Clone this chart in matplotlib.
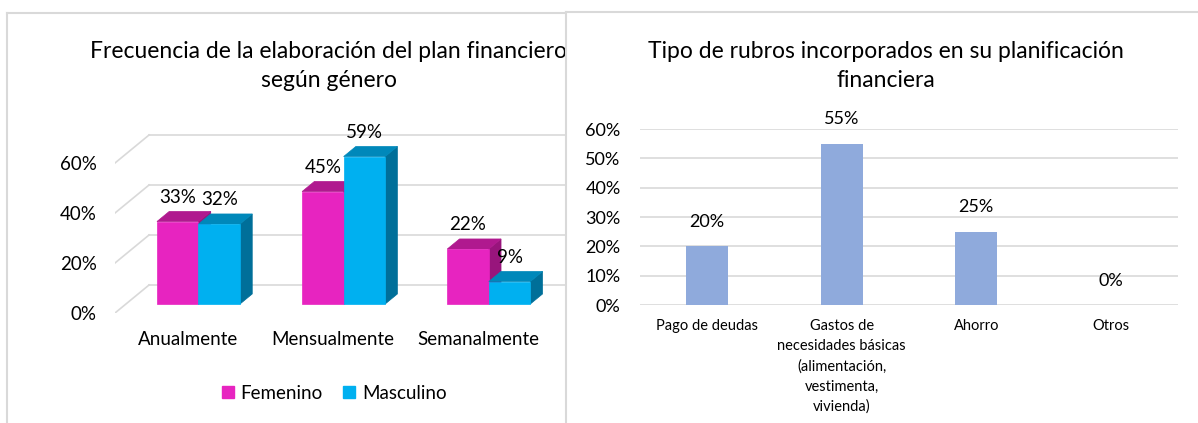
import matplotlib.pyplot as plt
from matplotlib.patches import Polygon, Patch

plt.rcParams['font.family'] = ['Lato', 'DejaVu Sans']

# left chart: frecuencia por genero
freq_cats = ['Anualmente', 'Mensualmente', 'Semanalmente']
femenino = [33, 45, 22]
masculino = [32, 59, 9]
freq_ticks = [0, 20, 40, 60]

# right chart: tipo de rubros
rubros = ['Pago de deudas',
          'Gastos de\nnecesidades básicas\n(alimentación,\nvestimenta,\nvivienda)',
          'Ahorro', 'Otros']
rubros_vals = [20, 55, 25, 0]
rubros_ticks = [0, 10, 20, 30, 40, 50, 60]

W, H = 1198, 423


def rect(x0, y0, x1, y1):
    # pixel box (top-left origin) -> figure fraction
    return [x0 / W, 1 - y1 / H, (x1 - x0) / W, (y1 - y0) / H]


fig = plt.figure(figsize=(W / 100, H / 100), dpi=100)
grid_c = '#D9D9D9'

# panel frames
p1 = fig.add_axes(rect(7, 13, 760, 460), zorder=0)
p2 = fig.add_axes(rect(566, 12, 1260, 460), zorder=2)
for p in (p1, p2):
    p.set_xticks([])
    p.set_yticks([])
    p.set_facecolor('white')
    for s in p.spines.values():
        s.set_color(grid_c)
        s.set_linewidth(1.5)

# ---- left: pseudo 3D clustered columns ----
DX, DY = 0.2345, 11.2          # wall depth in data units
z0, z1 = 0.32, 0.68            # bar depth range
fx, fy = z0 * DX, z0 * DY
bdx, bdy = (z1 - z0) * DX, (z1 - z0) * DY
w = 0.286

ax = fig.add_axes(rect(115, 133, 584.5, 313), zorder=1)
ax.set_xlim(-0.5, 2.5 + DX)
ax.set_ylim(0, 72)
ax.patch.set_visible(False)
for s in ax.spines.values():
    s.set_visible(False)

for v in freq_ticks:
    ax.plot([-0.5 + DX, 2.5 + DX], [v + DY, v + DY], color=grid_c, lw=1.2, zorder=1)
    ax.plot([-0.5, -0.5 + DX], [v, v + DY], color=grid_c, lw=1.2, zorder=1)

series = [(femenino, -w, ('#E724C0', '#B0198F', '#98157C')),
          (masculino, 0, ('#00B0F0', '#0088BA', '#006F99'))]
zo = 2
for i in range(len(freq_cats)):
    for vals, off, (cf, ct, cs) in series:
        v = vals[i]
        x0 = i + off + fx
        x1 = x0 + w
        ax.add_patch(Polygon([(x1, fy), (x1 + bdx, fy + bdy), (x1 + bdx, fy + v + bdy), (x1, fy + v)],
                             closed=True, facecolor=cs, edgecolor=cs, lw=0.5, zorder=zo))
        ax.add_patch(Polygon([(x0, fy + v), (x1, fy + v), (x1 + bdx, fy + v + bdy), (x0 + bdx, fy + v + bdy)],
                             closed=True, facecolor=ct, edgecolor=ct, lw=0.5, zorder=zo))
        ax.bar(x0, v, width=w, bottom=fy, align='edge', color=cf, edgecolor=cf, lw=0.5, zorder=zo)
        ax.annotate(f'{v}%', (x0 + w / 2, fy + v), xytext=(0, 17.5), textcoords='offset points',
                    ha='center', va='center', fontsize=13.5, zorder=10)
        zo += 1

ax.set_yticks(freq_ticks)
ax.set_yticklabels([f'{t}%' for t in freq_ticks])
ax.set_xticks(range(len(freq_cats)))
ax.set_xticklabels(freq_cats)
ax.tick_params(axis='y', length=0, pad=13, labelsize=13.5)
ax.tick_params(axis='x', length=0, pad=13, labelsize=13.5)

ax.text(329 / W, 1 - 66 / H, 'Frecuencia de la elaboración del plan financiero\nsegún género',
        transform=fig.transFigure, ha='center', va='center', fontsize=16.5, linespacing=1.5)

ax.legend(handles=[Patch(color='#E724C0', label='Femenino'), Patch(color='#00B0F0', label='Masculino')],
          loc='center', bbox_to_anchor=(334 / W, 1 - 393 / H), bbox_transform=fig.transFigure,
          ncol=2, frameon=False, fontsize=13.5, handlelength=0.65, handleheight=0.65,
          handletextpad=0.35, columnspacing=1.1, borderaxespad=0)

# ---- right: simple columns ----
ax2 = fig.add_axes(rect(640, 129, 1178, 305), zorder=3)
ax2.set_xlim(-0.5, len(rubros) - 0.5)
ax2.set_ylim(0, 60)
ax2.patch.set_visible(False)
for s in ax2.spines.values():
    s.set_visible(False)
ax2.set_yticks(rubros_ticks)
ax2.set_yticklabels([f'{t}%' for t in rubros_ticks])
ax2.yaxis.grid(True, color=grid_c, lw=1.2)
ax2.set_axisbelow(True)
ax2.bar(range(len(rubros)), rubros_vals, width=0.31, color='#8FAADC', zorder=2)
for i, v in enumerate(rubros_vals):
    ax2.annotate(f'{v}%', (i, v), xytext=(0, 17.5), textcoords='offset points',
                 ha='center', va='center', fontsize=13)
ax2.set_xticks(range(len(rubros)))
ax2.set_xticklabels(rubros, fontsize=10.5, linespacing=1.55)
ax2.tick_params(axis='y', length=0, pad=14, labelsize=13)
ax2.tick_params(axis='x', length=0, pad=10)

ax2.text(886 / W, 1 - 66 / H, 'Tipo de rubros incorporados en su planificación\nfinanciera',
         transform=fig.transFigure, ha='center', va='center', fontsize=16.5, linespacing=1.5)

fig.savefig('out.png', dpi=100)
